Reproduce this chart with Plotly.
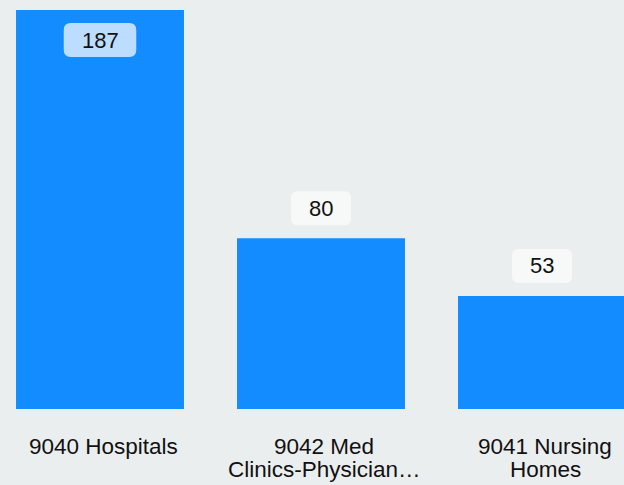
import plotly.graph_objects as go

categories = ["9040 Hospitals", "9042 Med<br>Clinics-Physician…", "9041 Nursing<br>Homes"]
values = [187, 80, 53]

BG = "#EBEEEF"
BAR = "#128CFF"
FONT = "Liberation Sans, Arial, sans-serif"
W, H = 624, 485
M_B = 76
plot_h = H - M_B
px_per_x = 221.0
x0 = -100.0 / px_per_x
x1 = x0 + W / px_per_x
ymax = max(values) * plot_h / 399.0
px_per_y = plot_h / ymax

xs = list(range(len(values)))

fig = go.Figure(go.Bar(x=xs, y=values, width=0.76, marker=dict(color=BAR, line=dict(width=0)),
                       hoverinfo="skip"))

shapes = []
annotations = []
for x, v in zip(xs, values):
    txt = str(v)
    inside = v / ymax > 0.85
    off = -30 if inside else 30
    cy = v + off / px_per_y
    bw = 35 + 12.5 * len(txt)
    bh = 34
    r = 7
    hw = bw / 2 / px_per_x
    hh = bh / 2 / px_per_y
    rx = r / px_per_x
    ry = r / px_per_y
    L, R, B, T = x - hw, x + hw, cy - hh, cy + hh
    path = (f"M {L+rx},{B} L {R-rx},{B} Q {R},{B} {R},{B+ry} L {R},{T-ry} Q {R},{T} {R-rx},{T} "
            f"L {L+rx},{T} Q {L},{T} {L},{T-ry} L {L},{B+ry} Q {L},{B} {L+rx},{B} Z")
    shapes.append(dict(type="path", path=path, xref="x", yref="y", line=dict(width=0),
                       fillcolor="#BDDDFF" if inside else "#F7F9F9", layer="above"))
    annotations.append(dict(x=x, y=cy, xref="x", yref="y", text=txt, showarrow=False,
                            font=dict(size=22, color="#111111", family=FONT),
                            xanchor="center", yanchor="middle"))

# category labels (line spacing tighter than plotly's default tick labels)
for x, cat in zip(xs, categories):
    for k, line in enumerate(cat.split("<br>")):
        annotations.append(dict(x=x, y=0, xref="x", yref="paper", text=line, showarrow=False,
                                font=dict(size=22.5, color="#111111", family=FONT),
                                xanchor="center", yanchor="middle",
                                xshift=3, yshift=-37 - 23.5 * k))

fig.update_layout(
    width=W, height=H,
    margin=dict(l=0, r=0, t=0, b=M_B),
    paper_bgcolor=BG, plot_bgcolor=BG,
    showlegend=False,
    shapes=shapes, annotations=annotations,
    font=dict(family=FONT, color="#111111"),
    xaxis=dict(range=[x0, x1], showticklabels=False, showgrid=False, zeroline=False,
               showline=False, ticks="", fixedrange=True),
    yaxis=dict(range=[0, ymax], visible=False, showgrid=False, zeroline=False, fixedrange=True),
)

fig.write_html("out.html", config={"displayModeBar": False},
               post_script="document.body.style.margin='0';document.body.style.background='" + BG + "';")
